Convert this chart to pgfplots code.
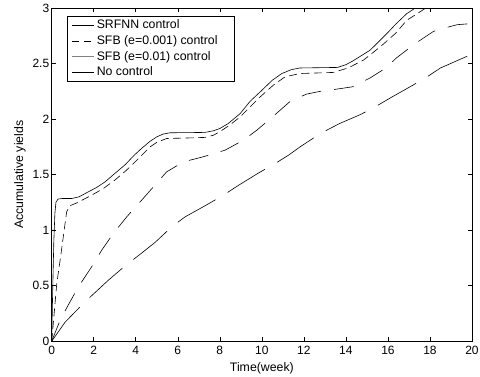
\documentclass[border=0pt]{standalone}
\usepackage{fontspec}
\setmainfont{Liberation Sans}
\usepackage{pgfplots}
\pgfplotsset{compat=1.18}
\begin{document}
\begin{tikzpicture}
\path[use as bounding box] (-51.7pt,-35pt) rectangle (428pt,341pt);
\begin{axis}[
  at={(0pt,0pt)}, anchor=south west,
  scale only axis, width=420pt, height=333pt,
  xmin=0, xmax=20, ymin=0, ymax=3,
  xtick={0,2,...,20}, ytick={0,0.5,...,3},
  tick align=inside, tick pos=both,
  major tick length=4pt,
  axis line style={line width=0.8pt},
  tick style={line width=0.6pt, black},
  /pgf/number format/assume math mode=true,
  ticklabel style={font=\fontsize{12}{13}\selectfont},
  xticklabel style={yshift=-1.5pt},
  yticklabel style={xshift=1pt},
  xlabel={Time(week)}, ylabel={Accumulative yields},
  label style={font=\fontsize{12.3}{13}\selectfont},
  xlabel style={yshift=-1pt},
  ylabel style={yshift=0pt},
  legend cell align=left,
  legend style={at={(0.036,0.977)}, anchor=north west, draw=black, line width=0.8pt,
    font=\fontsize{12.3}{13}\selectfont, row sep=1.2pt, inner xsep=4.5pt, inner ysep=2pt},
  legend image code/.code={\draw[#1] (0pt,0pt) -- (22pt,0pt);},
]
\addlegendimage{black, line width=0.5pt}
\addlegendentry{SRFNN control}
\addlegendimage{black, line width=0.6pt, dash pattern=on 7pt off 5pt}
\addlegendentry{\mbox{SFB (e=0.001) control\kern10pt}}
\addlegendimage{gray, line width=1pt}
\addlegendentry{SFB (e=0.01) control}
\addlegendimage{black, line width=0.5pt}
\addlegendentry{No control}

\addplot[forget plot, black, line width=0.6pt] coordinates {
(0,0) (0.05,0.5) (0.1,0.9) (0.15,1.15) (0.2,1.25) (0.3,1.28) (0.5,1.285) (0.95,1.285)
(1.3,1.3) (1.74,1.345) (2.1,1.38) (2.54,1.435) (3.0,1.51) (3.5,1.59) (3.9,1.67)
(4.3,1.74) (4.68,1.80) (5.0,1.84) (5.3,1.865) (5.64,1.877) (6.5,1.878) (7.3,1.88)
(7.7,1.895) (8.0,1.915) (8.4,1.96) (8.97,2.05) (9.44,2.16) (9.92,2.245) (10.5,2.35)
(10.95,2.41) (11.4,2.445) (11.8,2.46) (13.6,2.465) (14.0,2.49) (14.3,2.52) (15.15,2.62)
(15.63,2.71) (16.0,2.78) (16.4,2.86) (16.9,2.95) (17.3,3.0) (17.5,3.02)
};
\addplot[forget plot, black, line width=0.6pt, dash pattern=on 8pt off 4.5pt] coordinates {
(0,0) (0.24,0.52) (0.4,0.73) (0.55,0.94) (0.71,1.165) (0.87,1.22) (1.19,1.245)
(1.9,1.315) (2.46,1.375) (3.0,1.45) (3.5,1.53) (4.0,1.62) (4.68,1.75) (5.0,1.79)
(5.47,1.825) (6.5,1.83) (7.3,1.835) (7.7,1.855) (8.0,1.886) (8.5,1.95) (8.97,2.02)
(9.44,2.11) (9.92,2.2) (10.55,2.306) (11.1,2.38) (11.8,2.41) (13.4,2.42) (14.1,2.46)
(14.83,2.53) (15.63,2.65) (16.35,2.77) (16.9,2.89) (17.4,2.95) (17.8,3.0) (18.0,3.02)
};
\addplot[forget plot, black, line width=0.6pt, dash pattern=on 20pt off 13pt] coordinates {
(0,0) (0.4,0.19) (0.74,0.31) (1.27,0.49) (1.9,0.67) (2.38,0.82) (2.93,0.97) (3.57,1.12)
(4.28,1.27) (4.84,1.39) (5.47,1.525) (6.27,1.615) (7.2,1.66) (8.25,1.72) (9.12,1.81)
(9.76,1.9) (10.63,2.04) (11.35,2.16) (12.13,2.225) (12.78,2.25) (13.2,2.26) (14.3,2.29)
(15.15,2.37) (15.9,2.46) (16.4,2.55) (17.3,2.68) (18.17,2.79) (18.9,2.83) (19.3,2.85) (20,2.86)
};
\addplot[forget plot, black, line width=0.6pt, dash pattern=on 44pt off 14pt] coordinates {
(0,0) (0.63,0.17) (1.35,0.31) (1.9,0.41) (2.7,0.55) (3.5,0.68) (4.12,0.77) (4.92,0.89)
(5.71,1.03) (6.35,1.12) (7.3,1.22) (8.17,1.315) (8.9,1.405) (9.8,1.51) (10.63,1.6)
(11.27,1.675) (11.82,1.75) (12.78,1.87) (13.7,1.96) (14.68,2.04) (15.3,2.10) (16.2,2.2)
(17.14,2.30) (17.86,2.38) (18.5,2.46) (19.7,2.56) (20,2.58)
};
\end{axis}
\end{tikzpicture}
\end{document}
